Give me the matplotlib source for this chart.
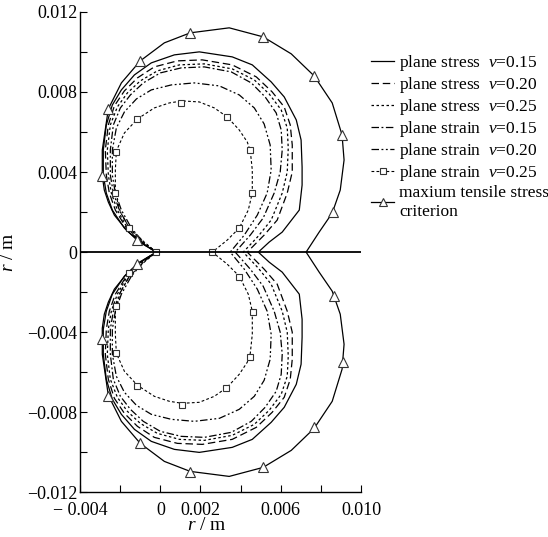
import numpy as np
import matplotlib
matplotlib.use("Agg")
import matplotlib.pyplot as plt
from matplotlib.lines import Line2D

plt.rcParams['font.family'] = ['Liberation Serif', 'DejaVu Serif']
plt.rcParams['mathtext.fontset'] = 'custom'
plt.rcParams['mathtext.rm'] = 'Liberation Serif'
plt.rcParams['mathtext.it'] = 'Liberation Serif:italic'

# upper half of each boundary, in mm (x, r); lower half is the mirror image
stress_015_x = [-0.20, -1.04, -1.79, -2.39, -2.69, -2.84, -2.84, -2.69, -2.39, -1.94, -1.29, -0.45, 0.70, 1.94,
                3.58, 4.58, 5.52, 6.17, 6.77, 7.01, 7.06, 7.06, 6.92, 6.07, 5.42, 4.88]
stress_015_y = [0.00, 0.50, 1.20, 2.10, 2.95, 3.85, 5.10, 6.35, 7.35, 8.10, 8.85, 9.45, 9.85, 10.00,
                9.75, 9.35, 8.50, 7.75, 6.60, 5.60, 4.25, 3.35, 2.10, 1.00, 0.50, 0.00]

stress_020_x = [-0.20, -0.99, -1.69, -2.24, -2.54, -2.69, -2.74, -2.59, -2.29, -1.79, -1.14, -0.30, 0.85, 2.09,
                3.58, 4.78, 5.57, 6.17, 6.47, 6.57, 6.57, 6.32, 5.82, 5.17, 4.33]
stress_020_y = [0.00, 0.50, 1.20, 2.10, 2.95, 3.85, 5.10, 6.35, 7.30, 8.05, 8.70, 9.25, 9.55, 9.60,
                9.35, 8.75, 8.00, 7.25, 6.35, 5.35, 4.00, 2.95, 1.60, 0.85, 0.00]

stress_025_x = [-0.20, -0.95, -1.64, -2.14, -2.44, -2.59, -2.64, -2.49, -2.14, -1.64, -1.00, -0.15, 0.95, 2.19,
                3.58, 4.68, 5.42, 6.02, 6.32, 6.37, 6.32, 6.07, 5.52, 4.88, 4.13]
stress_025_y = [0.00, 0.50, 1.20, 2.10, 2.95, 3.85, 5.10, 6.35, 7.25, 7.95, 8.55, 9.05, 9.35, 9.40,
                9.15, 8.60, 7.90, 7.10, 6.20, 5.20, 4.00, 2.95, 1.60, 0.80, 0.00]

strain_015_x = [-0.20, -0.90, -1.54, -2.04, -2.34, -2.49, -2.49, -2.34, -1.99, -1.49, -0.85, 0.00, 1.04, 2.19,
                3.53, 4.53, 5.22, 5.77, 6.02, 6.07, 5.97, 5.67, 5.12, 4.48, 3.73]
strain_015_y = [0.00, 0.50, 1.20, 2.10, 2.95, 3.85, 5.10, 6.35, 7.20, 7.85, 8.45, 8.95, 9.20, 9.25,
                9.00, 8.45, 7.75, 6.95, 6.10, 5.10, 4.00, 2.95, 1.70, 0.85, 0.00]

strain_020_x = [-0.20, -0.85, -1.44, -1.94, -2.24, -2.39, -2.39, -2.19, -1.79, -1.19, -0.45, 0.55, 1.69,
                2.94, 3.93, 4.68, 5.17, 5.47, 5.52, 5.32, 4.83, 4.18, 3.48]
strain_020_y = [0.00, 0.50, 1.20, 2.10, 2.95, 3.85, 5.10, 6.20, 7.00, 7.65, 8.10, 8.35, 8.45,
                8.30, 7.85, 7.20, 6.40, 5.35, 4.10, 2.95, 1.85, 0.85, 0.00]

strain_025_x = [-0.20, -0.80, -1.54, -1.99, -2.24, -2.24, -2.19, -1.79, -1.14, -0.30, 0.45, 1.09, 1.94, 2.69,
                3.33, 3.93, 4.33, 4.48, 4.58, 4.58, 4.38, 3.93, 3.33, 2.59]
strain_025_y = [0.00, 0.50, 1.20, 2.00, 2.95, 4.10, 5.05, 5.95, 6.65, 7.20, 7.45, 7.55, 7.50, 7.20,
                6.75, 6.10, 5.50, 5.05, 4.10, 2.95, 2.10, 1.20, 0.60, 0.00]
strain_025_mx = [-0.20, -1.54, -2.24, -2.19, -1.14, 1.04, 3.33, 4.48, 4.58, 3.93, 2.59,
                 -1.54, -2.19, -2.19, -1.14, 1.09, 3.28, 4.48, 4.63, 3.93]
strain_025_my = [0.00, 1.20, 2.95, 5.00, 6.65, 7.45, 6.75, 5.10, 2.95, 1.20, 0.00,
                 -1.05, -2.70, -5.05, -6.70, -7.65, -6.80, -5.25, -3.00, -1.25]

tensile_x = [-0.20, -1.14, -1.69, -2.29, -2.59, -2.79, -2.89, -2.89, -2.59, -1.94, -1.00, 0.20, 1.49, 3.43,
             5.12, 6.52, 7.66, 8.56, 9.05, 9.15, 8.96, 8.56, 7.91, 7.26]
tensile_y = [0.00, 0.60, 1.10, 1.85, 2.50, 3.10, 3.80, 5.10, 7.15, 8.45, 9.55, 10.45, 10.95, 11.20,
             10.75, 9.90, 8.80, 7.45, 5.85, 4.60, 3.10, 1.95, 1.00, 0.00]
tensile_mx = [-1.14, -2.89, -2.59, -1.00, 1.49, 5.12, 7.66, 9.05, 8.61,
              -1.14, -2.89, -2.59, -1.00, 1.49, 5.12, 7.66, 9.10, 8.66]
tensile_my = [0.60, 3.80, 7.15, 9.55, 10.95, 10.75, 8.80, 5.85, 2.00,
              -0.60, -4.35, -7.20, -9.55, -11.00, -10.75, -8.75, -5.50, -2.20]

labels = ['plane stress  $v$=0.15', 'plane stress  $v$=0.20', 'plane stress  $v$=0.25',
          'plane strain  $v$=0.15', 'plane strain  $v$=0.20', 'plane strain  $v$=0.25',
          'maxium tensile stress\ncriterion']

xtick_vals = [-0.004, -0.002, 0, 0.002, 0.004, 0.006, 0.008, 0.010]
xtick_labels = ['\u2212 0.004', '', '0', '0.002', '', '0.006', '', '0.010']
ytick_vals = [-0.012, -0.008, -0.004, 0, 0.004, 0.008, 0.012]
ytick_labels = ['\u22120.012', '\u22120.008', '\u22120.004', '0', '0.004', '0.008', '0.012']


def closed(xs, ys):
    x = np.array(xs) * 1e-3
    y = np.array(ys) * 1e-3
    return np.concatenate([x, x[::-1]]), np.concatenate([y, -y[::-1]])


fig = plt.figure(figsize=(5.48, 5.37), dpi=100)
ax = fig.add_axes([0.146, 0.083, 0.513, 0.895])

styles = [
    dict(ls='-', lw=0.9),
    dict(ls=(0, (6, 3)), lw=0.9),
    dict(ls=(0, (2, 2)), lw=0.9),
    dict(ls=(0, (6, 2, 1.5, 2)), lw=0.9),
    dict(ls=(0, (6, 2, 1.5, 2, 1.5, 2)), lw=0.9),
    dict(ls=(0, (2.5, 2)), lw=0.8),
    dict(ls='-', lw=0.9),
]
curves = [(stress_015_x, stress_015_y), (stress_020_x, stress_020_y), (stress_025_x, stress_025_y),
          (strain_015_x, strain_015_y), (strain_020_x, strain_020_y), (strain_025_x, strain_025_y),
          (tensile_x, tensile_y)]

for (cx, cy), st in zip(curves, styles):
    x, y = closed(cx, cy)
    ax.plot(x, y, color='black', **st)

ax.plot(np.array(strain_025_mx) * 1e-3, np.array(strain_025_my) * 1e-3, ls='none', marker='s',
        ms=5, mfc='white', mec='#333333', mew=0.8)
ax.plot(np.array(tensile_mx) * 1e-3, np.array(tensile_my) * 1e-3, ls='none', marker='^',
        ms=6.5, mfc='white', mec='#333333', mew=0.8)

ax.axhline(0, color='black', lw=1.3)

handles = []
for i, st in enumerate(styles):
    mk = {5: dict(marker='s', ms=4, mfc='white', mec='#333333', mew=0.8),
          6: dict(marker='^', ms=6, mfc='white', mec='#333333', mew=0.8)}.get(i, {})
    handles.append(Line2D([0], [0], color='black', **st, **mk))
leg = fig.legend(handles, labels, loc='upper left', bbox_to_anchor=(0.662, 0.918), frameon=False,
                 fontsize=12.5, handlelength=1.3, handletextpad=0.3, labelspacing=0.12, borderpad=0)

ax.set_xlim(-0.004, 0.010)
ax.set_ylim(-0.012, 0.012)
ax.set_xticks(xtick_vals)
ax.set_xticklabels(xtick_labels)
ax.set_yticks(ytick_vals)
ax.set_yticklabels(ytick_labels)
ax.set_yticks(np.arange(-0.010, 0.0101, 0.004), minor=True)
ax.tick_params(direction='in', length=5, width=0.8, labelsize=13, pad=2)
ax.tick_params(axis='x', pad=7)
ax.tick_params(which='minor', direction='in', length=5, width=0.8)
for s in ['top', 'right']:
    ax.spines[s].set_visible(False)
for s in ['left', 'bottom']:
    ax.spines[s].set_linewidth(1.0)

ax.set_xlabel('$r$ / m', fontsize=14)
ax.set_ylabel('$r$ / m', fontsize=14)
ax.xaxis.set_label_coords(0.45, -0.052)
ax.yaxis.set_label_coords(-0.225, 0.5)

fig.savefig('out.png', dpi=100)
